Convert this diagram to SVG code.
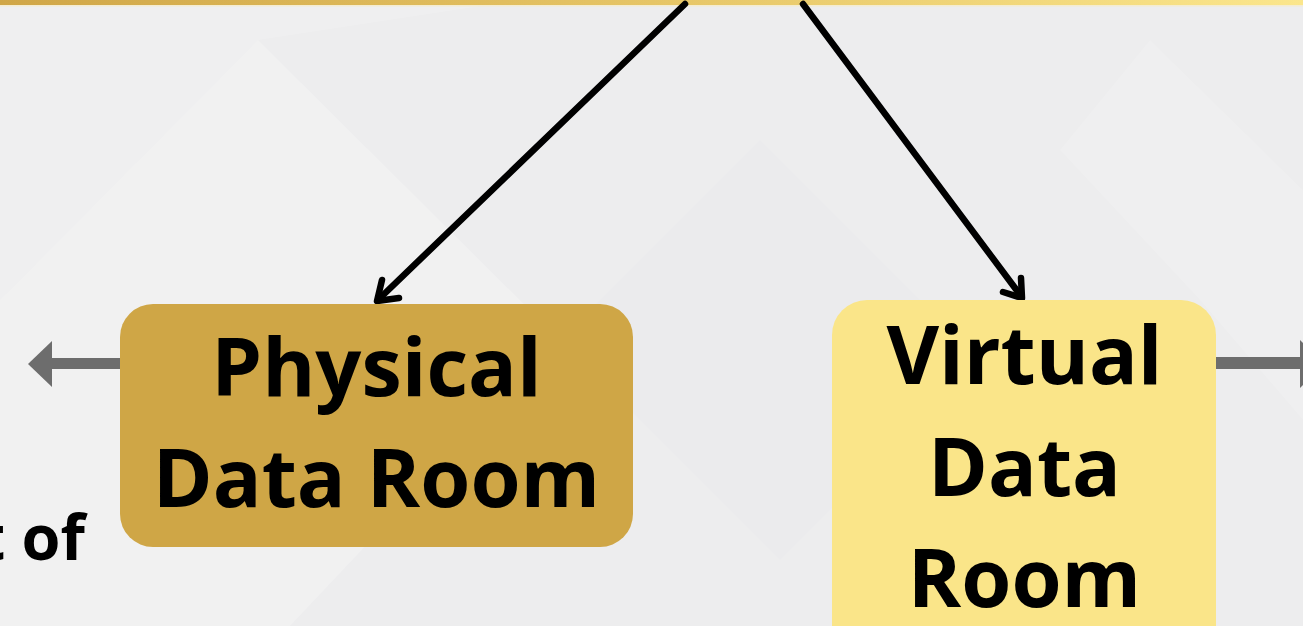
<svg xmlns="http://www.w3.org/2000/svg" width="1303" height="626" viewBox="0 0 1303 626">
  <defs>
    <linearGradient id="topBar" x1="0" y1="0" x2="1" y2="0">
      <stop offset="0" stop-color="#D0A647"/>
      <stop offset="0.5" stop-color="#E6C566"/>
      <stop offset="1" stop-color="#FBE68C"/>
    </linearGradient>
    <style>
      .label { font-family: "Open Sans", "Liberation Sans", sans-serif; font-weight: 700; font-size: 81px; fill: #000; text-anchor: middle; }
      .side { font-family: "Open Sans", "Liberation Sans", sans-serif; font-weight: 700; font-size: 63px; fill: #000; }
      .link { fill: none; stroke: #000; stroke-width: 6.5; stroke-linecap: round; stroke-linejoin: round; }
      .side-arrow { fill: #6D6D6D; }
      .facet { fill: #FFFFFF; }
    </style>
  </defs>

  <!-- backdrop with soft diagonal facets -->
  <rect x="0" y="0" width="1303" height="626" fill="#EDEDEE"/>
  <polygon class="facet" opacity="0.22" points="258,40 560,340 290,626 0,626 0,300"/>
  <polygon class="facet" opacity="0.15" points="0,0 520,0 258,40 0,300"/>
  <polygon class="facet" opacity="0.12" points="1150,40 1303,190 1303,420 1200,300 1060,150"/>
  <polygon fill="#E8E8EA" opacity="0.35" points="560,340 760,140 980,360 780,560"/>

  <!-- header strip -->
  <rect x="0" y="0" width="1303" height="5" fill="url(#topBar)"/>
  <rect x="0" y="5" width="1303" height="1.5" fill="#F6EBC4" opacity="0.7"/>

  <!-- connectors -->
  <g id="connectors">
    <line class="link" x1="685" y1="4" x2="379" y2="299"/>
    <polyline class="link" points="382,280 377,301 399,298"/>
    <line class="link" x1="803" y1="4" x2="1021" y2="296"/>
    <polyline class="link" points="1021,278 1022,298 1003,292"/>
    <rect class="side-arrow" x="50" y="358" width="72" height="11"/>
    <polygon class="side-arrow" points="28,364 52,341 52,387"/>
    <rect class="side-arrow" x="1212" y="357" width="90" height="12"/>
    <polygon class="side-arrow" points="1300,340 1324,364 1300,388"/>
  </g>

  <!-- physical data room -->
  <g id="node-physical">
    <rect x="120" y="304" width="513" height="243" rx="33" fill="#CFA646"/>
    <text class="label" x="376.5" y="396">Physical</text>
    <text class="label" x="376.5" y="507">Data Room</text>
  </g>

  <!-- virtual data room -->
  <g id="node-virtual">
    <rect x="832" y="300" width="384" height="360" rx="35" fill="#FAE589"/>
    <text class="label" x="1024.5" y="384">Virtual</text>
    <text class="label" x="1024.5" y="496">Data</text>
    <text class="label" x="1024.5" y="607">Room</text>
  </g>

  <!-- trailing caption fragment -->
  <g id="caption-left">
    <text class="side" x="85" y="560" text-anchor="end">t of</text>
  </g>
</svg>
